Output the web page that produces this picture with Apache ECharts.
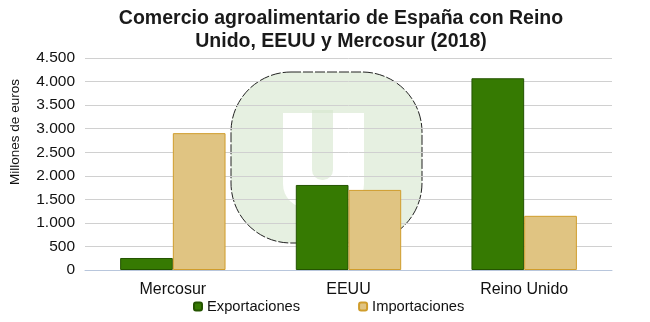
<!DOCTYPE html>
<html><head><meta charset="utf-8">
<script src="https://cdn.jsdelivr.net/npm/echarts@6/dist/echarts.min.js"></script>
<style>html,body{margin:0;padding:0;background:#fff}#c{width:650px;height:322px}</style>
</head><body><div id="c"></div>
<script>
const categories = ['Mercosur', 'EEUU', 'Reino Unido'];
const exportaciones = [255, 1805, 4070];
const importaciones = [2905, 1700, 1150];
const yTicks = ['0','500','1.000','1.500','2.000','2.500','3.000','3.500','4.000','4.500'];

const chart = echarts.init(document.getElementById('c'));
chart.setOption({
  animation: false,
  textStyle: { fontFamily: 'Liberation Sans, Arial, sans-serif' },
  title: {
    text: 'Comercio agroalimentario de España con Reino\nUnido, EEUU y Mercosur (2018)',
    left: 336, top: 2, textAlign: 'center',
    textStyle: { fontSize: 19.5, fontWeight: 'bold', color: '#1a1a1a', lineHeight: 23, fontFamily: 'Liberation Sans, Arial, sans-serif' }
  },
  legend: {
    bottom: 3, left: 188, itemWidth: 8, itemHeight: 8, itemGap: 58,
    textStyle: { fontSize: 14.7, color: '#111' },
    data: ['Exportaciones', 'Importaciones']
  },
  graphic: [
    { type: 'rect', z: -10, silent: true,
      shape: { x: 231, y: 72, width: 191, height: 171, r: 60 },
      style: { fill: 'rgba(214,230,205,0.6)', stroke: '#222', lineWidth: 1, lineDash: [10, 2] } },
    { type: 'rect', z: -9, silent: true,
      shape: { x: 283, y: 113, width: 81, height: 95, r: [0, 0, 24, 24] },
      style: { fill: '#ffffff' } },
    { type: 'rect', z: -8, silent: true,
      shape: { x: 312, y: 110, width: 21, height: 70, r: [0, 0, 10, 10] },
      style: { fill: 'rgba(214,230,205,0.6)' } }
  ],
  grid: { left: 82, right: 38, top: 58, bottom: 52 },
  xAxis: {
    type: 'category', data: categories,
    axisTick: { show: false },
    axisLine: { lineStyle: { color: '#b8c6dc' } },
    axisLabel: { fontSize: 16, color: '#111', margin: 12 }
  },
  yAxis: {
    type: 'value', min: 0, max: 4500, interval: 500,
    name: 'Millones de euros', nameLocation: 'middle', nameGap: 63, nameRotate: 90,
    nameTextStyle: { fontSize: 13.5, color: '#111', padding: [0, 0, 0, 64] },
    axisLabel: { fontSize: 15.5, color: '#111', margin: 10, formatter: v => yTicks[Math.round(v / 500)] },
    splitLine: { lineStyle: { color: '#d0d0d0' } }
  },
  series: [
    { name: 'Exportaciones', type: 'bar', data: exportaciones, barGap: '0%', barCategoryGap: '40%',
      itemStyle: { color: '#367a02', borderColor: '#245400', borderWidth: 1 } },
    { name: 'Importaciones', type: 'bar', data: importaciones,
      itemStyle: { color: '#e0c482', borderColor: '#d09d2c', borderWidth: 1 } }
  ]
});
</script></body></html>
